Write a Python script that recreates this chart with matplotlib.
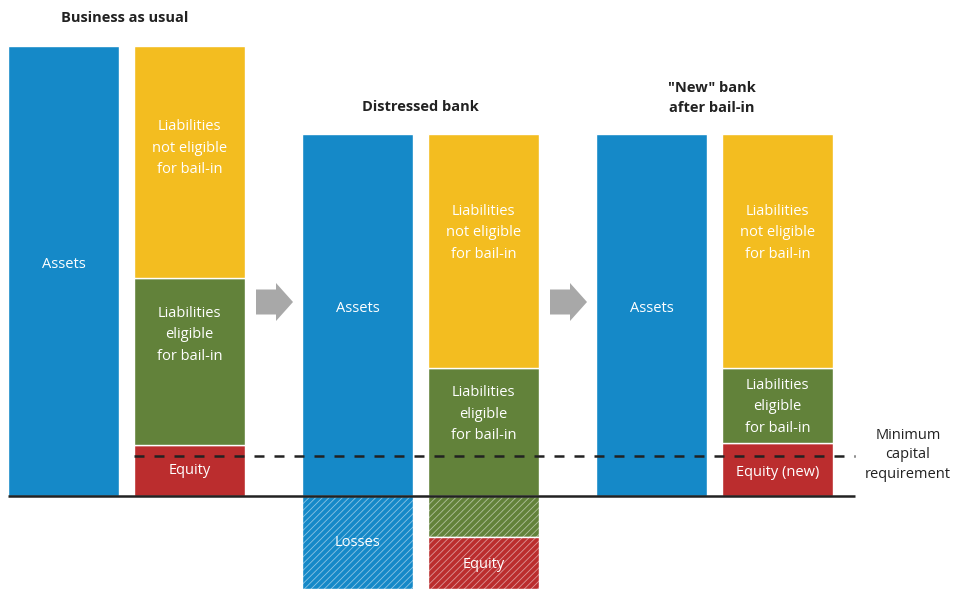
import matplotlib.pyplot as plt
import matplotlib.patches as mpatches

plt.rcParams['font.family'] = ['Open Sans', 'DejaVu Sans']
plt.rcParams['hatch.linewidth'] = 0.6

BLUE = '#1589c8'
YELLOW = '#f3bd20'
GREEN = '#62823a'
RED = '#bb2d2e'
GREY = '#a8a8a8'

# bar positions (left edge) and heights, pixel-like units above the baseline
bar_left = [8, 134, 302, 428, 596, 722]
bar_width = 111

# Business as usual
bau_assets = 450
bau_equity = 51
bau_eligible = 167
bau_not_eligible = 232

# Distressed bank
dis_assets = 362
dis_losses = 93
dis_not_eligible = 234
dis_eligible_above = 128
dis_eligible_lost = 41
dis_equity_lost = 52

# New bank after bail-in
new_assets = 362
new_equity = 53
new_eligible = 75
new_not_eligible = 234

min_capital = 40

FS = 10.5

fig = plt.figure(figsize=(9.57, 5.89), dpi=100)
ax = fig.add_axes([0, 0, 1, 1])
ax.set_xlim(0, 957)
ax.set_ylim(-93, 496)
ax.axis('off')


def label(i, y, text):
    ax.text(bar_left[i] + bar_width / 2, y, text, color='white',
            ha='center', va='center', fontsize=FS, linespacing=1.6)


def seg(i, bottom, height, color, text=None, hatched=False, text_y=None):
    x = bar_left[i]
    if hatched:
        ax.bar(x, height, bar_width, bottom=bottom, align='edge', color=color,
               edgecolor=(1, 1, 1, 0.5), linewidth=0, hatch='/////')
        ax.bar(x, height, bar_width, bottom=bottom, align='edge', fill=False,
               edgecolor='white', linewidth=1)
    else:
        ax.bar(x, height, bar_width, bottom=bottom, align='edge', color=color,
               edgecolor='white', linewidth=1)
    if text:
        label(i, bottom + height / 2 if text_y is None else text_y, text)


lne = 'Liabilities\nnot eligible\nfor bail-in'
le = 'Liabilities\neligible\nfor bail-in'

# business as usual
seg(0, 0, bau_assets, BLUE)
label(0, 232, 'Assets')
seg(1, 0, bau_equity, RED, 'Equity', text_y=26)
seg(1, bau_equity, bau_eligible, GREEN, le, text_y=161)
seg(1, bau_equity + bau_eligible, bau_not_eligible, YELLOW, lne, text_y=348)

# distressed bank
seg(2, 0, dis_assets, BLUE)
label(2, 188, 'Assets')
seg(2, -dis_losses, dis_losses, BLUE, 'Losses', hatched=True, text_y=-47)
seg(3, 0, dis_eligible_above, GREEN, le, text_y=82)
seg(3, dis_eligible_above, dis_not_eligible, YELLOW, lne, text_y=263)
seg(3, -dis_eligible_lost, dis_eligible_lost, GREEN, hatched=True)
seg(3, -dis_eligible_lost - dis_equity_lost, dis_equity_lost, RED, 'Equity',
    hatched=True, text_y=-69)

# new bank
seg(4, 0, new_assets, BLUE)
label(4, 188, 'Assets')
seg(5, 0, new_equity, RED, 'Equity (new)', text_y=23)
seg(5, new_equity, new_eligible, GREEN, le, text_y=89)
seg(5, new_equity + new_eligible, new_not_eligible, YELLOW, lne, text_y=263)

# baseline and minimum capital line
ax.plot([8, 855], [0, 0], color='#222222', lw=1.8, solid_capstyle='butt')
ax.plot([134, 855], [min_capital, min_capital], color='#222222', lw=1.8,
        dashes=(4, 4))
ax.text(908, 41, 'Minimum\ncapital\nrequirement', ha='center', va='center',
        fontsize=FS, color='#222222', linespacing=1.45)

# arrows
for x0 in [256, 550]:
    ax.add_patch(mpatches.FancyArrow(x0, 194, 37, 0, width=25, head_width=38,
                                     head_length=17, length_includes_head=True,
                                     color=GREY, lw=0))

# titles
ax.text(125, 478, 'Business as usual', ha='center', va='center',
        fontsize=FS, fontweight='bold', color='#222222')
ax.text(420, 389, 'Distressed bank', ha='center', va='center',
        fontsize=FS, fontweight='bold', color='#222222')
ax.text(712, 398, '"New" bank\nafter bail-in', ha='center', va='center',
        fontsize=FS, fontweight='bold', color='#222222', linespacing=1.5)

fig.savefig('out.png', dpi=100)
